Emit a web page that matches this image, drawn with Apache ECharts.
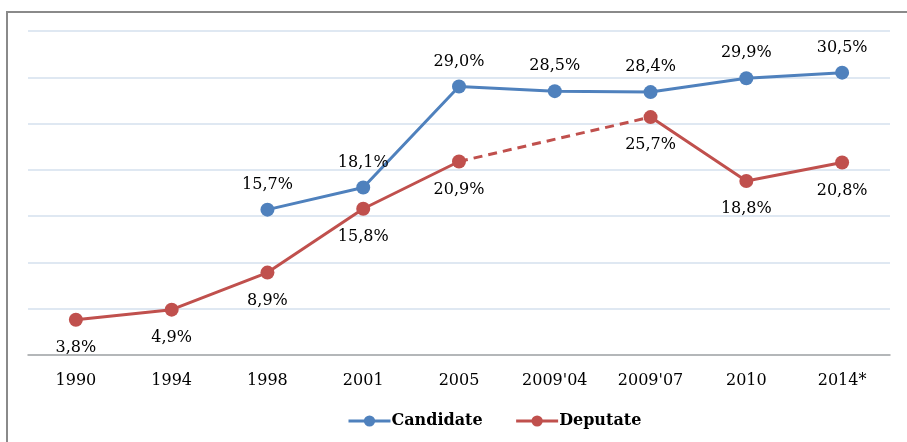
<!DOCTYPE html>
<html>
<head>
<meta charset="utf-8">
<script src="https://cdn.jsdelivr.net/npm/echarts@6/dist/echarts.min.js"></script>
<style>
  html, body { margin: 0; padding: 0; background: #fff; overflow: hidden; }
  .frame {
    position: absolute; left: 6px; top: 11px; width: 960px; height: 500px;
    border-left: 2px solid #8a8a8a; border-top: 2px solid #8a8a8a;
  }
  #chart { position: absolute; left: 0; top: 0; width: 907px; height: 442px; }
</style>
</head>
<body>
<div class="frame"></div>
<div id="chart"></div>
<script>
const categories = ['1990', '1994', '1998', '2001', '2005', "2009'04", "2009'07", '2010', '2014*']
const candidate = [null, null, 15.7, 18.1, 29.0, 28.5, 28.4, 29.9, 30.5]
const deputate = [3.8, 4.9, 8.9, 15.8, 20.9, null, 25.7, 18.8, 20.8]
// gap in deputate bridged with a dashed segment
const deputateGap = deputate.map((v, i) => (i === 4 || i === 6 ? v : null))

const BLUE = '#4F81BD'
const RED = '#C0504D'
const FONT = 'DejaVu Serif'

const fmt = (p) => p.value.toFixed(1).replace('.', ',') + '%'

const chart = echarts.init(document.getElementById('chart'))
chart.setOption({
  animation: false,
  textStyle: { fontFamily: FONT },
  grid: { left: 28, right: 17, top: 31, bottom: 87 },
  legend: {
    data: ['Candidate', 'Deputate'],
    top: 408,
    left: 342,
    itemWidth: 42,
    itemHeight: 14,
    itemGap: 32,
    lineStyle: { width: 3 },
    textStyle: { fontFamily: FONT, fontSize: 16, fontWeight: 'bold', color: '#000', padding: [0, 0, 0, -4] }
  },
  xAxis: {
    type: 'category',
    data: categories,
    axisLine: { lineStyle: { color: '#a6a6a6', width: 1.5 } },
    axisTick: { length: 6, lineStyle: { color: '#a6a6a6' } },
    axisLabel: { fontFamily: FONT, fontSize: 16, color: '#000', margin: 18 }
  },
  yAxis: {
    type: 'value',
    min: 0,
    max: 35,
    interval: 5,
    axisLine: { show: false },
    axisTick: { show: false },
    axisLabel: { show: false },
    splitLine: { lineStyle: { color: '#d5e0ee', width: 1.5 } }
  },
  series: [
    {
      name: 'Candidate',
      type: 'line',
      data: candidate,
      symbol: 'circle',
      symbolSize: 14,
      itemStyle: { color: BLUE },
      lineStyle: { color: BLUE, width: 3 },
      label: { show: true, position: 'top', distance: 10, formatter: fmt, fontFamily: FONT, fontSize: 16, color: '#000' },
      z: 3
    },
    {
      name: 'Deputate',
      type: 'line',
      data: deputate,
      symbol: 'circle',
      symbolSize: 14,
      itemStyle: { color: RED },
      lineStyle: { color: RED, width: 3 },
      label: { show: true, position: 'bottom', distance: 13, formatter: fmt, fontFamily: FONT, fontSize: 16, color: '#000' },
      z: 2
    },
    {
      type: 'line',
      data: deputateGap,
      connectNulls: true,
      symbol: 'none',
      silent: true,
      lineStyle: { color: RED, width: 3, type: [9, 6] },
      z: 1
    }
  ]
})
</script>
</body>
</html>
